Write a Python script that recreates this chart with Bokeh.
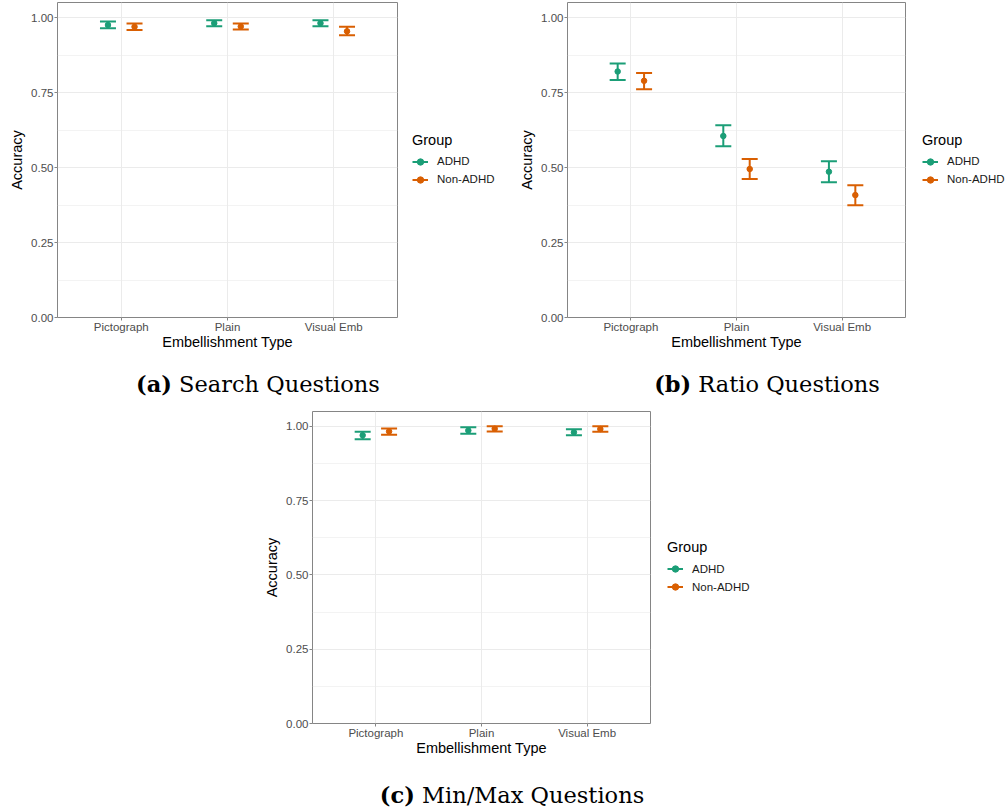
from bokeh.plotting import figure
from bokeh.models import Range1d, FixedTicker, Legend, LegendItem, Div, Spacer, ColumnDataSource
from bokeh.layouts import column, row
from bokeh.embed import file_html
from bokeh.resources import INLINE

# ---------------- data ----------------
categories = ["Pictograph", "Plain", "Visual Emb"]
groups = ["ADHD", "Non-ADHD"]
group_colors = ["#1B9E77", "#D95F02"]
y_ticks = [0.0, 0.25, 0.5, 0.75, 1.0]
y_minor_ticks = [0.125, 0.375, 0.625, 0.875]

# (a) Search questions
search_adhd_mean = [0.975, 0.981, 0.981]
search_adhd_lo = [0.964, 0.971, 0.971]
search_adhd_hi = [0.987, 0.991, 0.991]
search_non_mean = [0.969, 0.970, 0.954]
search_non_lo = [0.958, 0.960, 0.941]
search_non_hi = [0.980, 0.980, 0.969]

# (b) Ratio questions
ratio_adhd_mean = [0.820, 0.605, 0.486]
ratio_adhd_lo = [0.792, 0.571, 0.451]
ratio_adhd_hi = [0.847, 0.641, 0.521]
ratio_non_mean = [0.789, 0.495, 0.408]
ratio_non_lo = [0.761, 0.462, 0.374]
ratio_non_hi = [0.815, 0.528, 0.441]

# (c) Min/Max questions
minmax_adhd_mean = [0.970, 0.986, 0.980]
minmax_adhd_lo = [0.957, 0.975, 0.970]
minmax_adhd_hi = [0.982, 0.997, 0.990]
minmax_non_mean = [0.983, 0.992, 0.991]
minmax_non_lo = [0.972, 0.983, 0.982]
minmax_non_hi = [0.993, 1.000, 1.000]

captions = [("a", "Search Questions"), ("b", "Ratio Questions"), ("c", "Min/Max Questions")]

SANS = "Liberation Sans"
GRID = "#EBEBEB"
BORDER = "#858585"
DODGE = 0.125
STEM_W = 2
CAP_SIZE = 16
PT_SIZE = 5.5


def make_panel(series, width, height, top, bottom):
    p = figure(width=width, height=height,
               x_range=Range1d(0.4, 3.6), y_range=Range1d(0, 1.05),
               output_backend="svg", toolbar_location=None,
               min_border_left=57, min_border_right=1,
               min_border_top=top, min_border_bottom=bottom)
    p.background_fill_color = "white"
    p.border_fill_color = "white"
    p.outline_line_color = BORDER
    p.outline_line_width = 1

    pos = [float(i + 1) for i in range(len(categories))]

    # axes
    p.xaxis.ticker = FixedTicker(ticks=pos)
    p.xaxis.major_label_overrides = {i + 1: c for i, c in enumerate(categories)}
    p.yaxis.ticker = FixedTicker(ticks=y_ticks, minor_ticks=y_minor_ticks)
    p.yaxis.major_label_overrides = {t: f"{t:.2f}" for t in y_ticks}
    p.xaxis.axis_label = "Embellishment Type"
    p.yaxis.axis_label = "Accuracy"
    for ax in (p.xaxis, p.yaxis):
        ax.axis_line_color = None
        ax.major_tick_line_color = BORDER
        ax.major_tick_in = 0
        ax.major_tick_out = 3
        ax.minor_tick_line_color = None
        ax.major_label_text_font = SANS
        ax.major_label_text_font_size = "11.5px"
        ax.major_label_text_color = "#4D4D4D"
        ax.major_label_standoff = 0
        ax.axis_label_text_font = SANS
        ax.axis_label_text_font_size = "14.5px"
        ax.axis_label_text_font_style = "normal"
        ax.axis_label_text_color = "#000000"
    p.xaxis.axis_label_standoff = -2
    p.yaxis.axis_label_standoff = 3

    # grid
    p.xgrid.grid_line_color = GRID
    p.xgrid.grid_line_width = 1
    p.ygrid.grid_line_color = GRID
    p.ygrid.grid_line_width = 1
    p.ygrid.minor_grid_line_color = GRID
    p.ygrid.minor_grid_line_width = 0.6

    for gi, (color, (mean, lo, hi)) in enumerate(zip(group_colors, series)):
        off = -DODGE if gi == 0 else DODGE
        src = ColumnDataSource(dict(x=[v + off for v in pos], mean=mean, lo=lo, hi=hi))
        p.segment(x0="x", y0="lo", x1="x", y1="hi", source=src,
                  line_color=color, line_width=STEM_W)
        p.scatter(x="x", y="lo", source=src, marker="dash", size=CAP_SIZE,
                  line_color=color, line_width=STEM_W)
        p.scatter(x="x", y="hi", source=src, marker="dash", size=CAP_SIZE,
                  line_color=color, line_width=STEM_W)
        p.scatter(x="x", y="mean", source=src, size=PT_SIZE,
                  fill_color=color, line_color=color, line_width=1)
    return p


def make_legend(width, height, top, bottom, gap):
    lf = figure(width=width, height=height, x_range=Range1d(0, 1), y_range=Range1d(0, 1),
                output_backend="svg", toolbar_location=None,
                x_axis_location=None, y_axis_location=None,
                min_border_left=0, min_border_right=0,
                min_border_top=top, min_border_bottom=bottom)
    lf.grid.visible = False
    lf.outline_line_color = None
    lf.background_fill_color = "white"
    lf.border_fill_color = "white"
    items = []
    for name, color in zip(groups, group_colors):
        # a single point kept outside the visible range: only its legend key shows
        src = ColumnDataSource(dict(x=[-10.0], y=[-10.0]))
        seg = lf.segment(x0="x", y0="y", x1="x", y1="y", source=src,
                         line_color=color, line_width=STEM_W)
        pt = lf.scatter(x="x", y="y", source=src, size=PT_SIZE,
                        fill_color=color, line_color=color, line_width=1)
        items.append(LegendItem(label=name, renderers=[seg, pt]))
    legend = Legend(items=items, title="Group", location="center_left")
    legend.title_text_font = SANS
    legend.title_text_font_size = "14.5px"
    legend.title_text_font_style = "normal"
    legend.title_text_color = "#000000"
    legend.title_standoff = 5
    legend.label_text_font = SANS
    legend.label_text_font_size = "11.5px"
    legend.label_text_color = "#1A1A1A"
    legend.glyph_width = 16
    legend.glyph_height = 17
    legend.label_height = 17
    legend.label_standoff = 9
    legend.spacing = 1
    legend.padding = 0
    legend.margin = gap
    legend.border_line_color = None
    legend.background_fill_alpha = 0
    lf.add_layout(legend, "center")
    return lf


def caption(letter, text, width, height, pad_top, pad_left=0):
    html = (f'<div style="width:{width}px;padding-top:{pad_top}px;padding-left:{pad_left}px;'
            f'box-sizing:border-box;text-align:center;font-family:\'DejaVu Serif\';'
            f'font-size:22.5px;line-height:26px;color:#000;white-space:nowrap">'
            f'<b>({letter})</b>&nbsp;{text}</div>')
    return Div(text=html, width=width, height=height, margin=0)


H1 = 352   # top row height
H3 = 353   # panel (c) height

pa = make_panel([(search_adhd_mean, search_adhd_lo, search_adhd_hi),
                 (search_non_mean, search_non_lo, search_non_hi)],
                width=398, height=H1, top=2, bottom=30)
la = make_legend(112, H1, 2, 30, 14)
pb = make_panel([(ratio_adhd_mean, ratio_adhd_lo, ratio_adhd_hi),
                 (ratio_non_mean, ratio_non_lo, ratio_non_hi)],
                width=396, height=H1, top=2, bottom=30)
lb = make_legend(101, H1, 2, 30, 16)
pc = make_panel([(minmax_adhd_mean, minmax_adhd_lo, minmax_adhd_hi),
                 (minmax_non_mean, minmax_non_lo, minmax_non_hi)],
                width=396, height=H3, top=6, bottom=30)
lc = make_legend(115, H3, 6, 30, 16)

cap_a = caption(*captions[0], width=516, height=53, pad_top=19)
cap_b = caption(*captions[1], width=491, height=53, pad_top=19, pad_left=11)
cap_c = caption(*captions[2], width=514, height=50, pad_top=24)

layout = column(
    row(pa, la, pb, lb),
    row(cap_a, cap_b),
    row(Spacer(width=255, height=H3), pc, lc),
    row(Spacer(width=255, height=50), cap_c),
)

open("out.html", "w").write(file_html(layout, INLINE))
